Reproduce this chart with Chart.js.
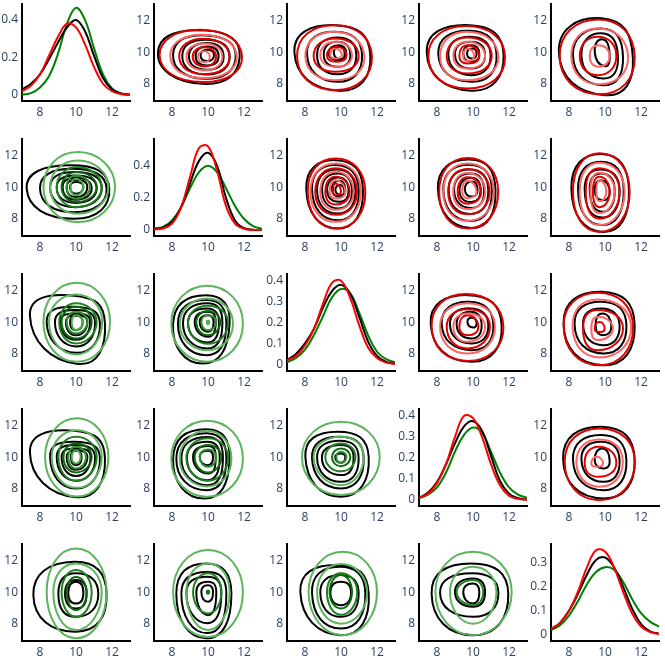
<!DOCTYPE html>
<html>
<head>
<meta charset="utf-8">
<script src="https://cdn.jsdelivr.net/npm/chart.js@4"></script>
<style>
  html, body { margin: 0; padding: 0; background: #fff; }
  #grid { position: relative; width: 665px; height: 661px; }
</style>
</head>
<body>
<div id="grid"></div>
<script>
// x grid of the density curves (diagonal panels)
const kdeX = [7, 7.5, 8, 8.5, 9, 9.5, 10, 10.5, 11, 11.5, 12, 12.5, 13];

const kde0Black = [0.03, 0.06, 0.11, 0.19, 0.28, 0.36, 0.40, 0.34, 0.21, 0.09, 0.03, 0.008, 0.002];
const kde0Red   = [0.02, 0.05, 0.11, 0.21, 0.31, 0.38, 0.36, 0.27, 0.15, 0.06, 0.02, 0.005, 0.001];
const kde0Green = [0.003, 0.01, 0.04, 0.10, 0.22, 0.38, 0.465, 0.40, 0.25, 0.11, 0.035, 0.008, 0.001];

const kde1Black = [0.005, 0.015, 0.05, 0.14, 0.29, 0.43, 0.48, 0.40, 0.20, 0.06, 0.012, 0.002, 0];
const kde1Red   = [0.003, 0.01, 0.04, 0.14, 0.33, 0.51, 0.52, 0.37, 0.15, 0.04, 0.008, 0.001, 0];
const kde1Green = [0.01, 0.02, 0.06, 0.14, 0.26, 0.36, 0.40, 0.36, 0.26, 0.15, 0.07, 0.025, 0.008];

const kde2Black = [0.02, 0.05, 0.10, 0.17, 0.27, 0.35, 0.38, 0.34, 0.23, 0.11, 0.04, 0.012, 0.003];
const kde2Red   = [0.02, 0.04, 0.09, 0.17, 0.29, 0.39, 0.40, 0.32, 0.19, 0.08, 0.03, 0.008, 0.002];
const kde2Green = [0.01, 0.03, 0.07, 0.14, 0.23, 0.32, 0.36, 0.34, 0.25, 0.14, 0.06, 0.025, 0.01];

const kde3Black = [0.01, 0.035, 0.085, 0.17, 0.27, 0.35, 0.375, 0.33, 0.21, 0.09, 0.03, 0.008, 0.002];
const kde3Red   = [0.01, 0.03, 0.08, 0.17, 0.30, 0.40, 0.39, 0.30, 0.17, 0.07, 0.02, 0.005, 0.001];
const kde3Green = [0.008, 0.025, 0.06, 0.13, 0.23, 0.31, 0.345, 0.32, 0.23, 0.13, 0.06, 0.025, 0.01];

const kde4Black = [0.025, 0.05, 0.10, 0.17, 0.25, 0.31, 0.32, 0.28, 0.20, 0.11, 0.045, 0.015, 0.005];
const kde4Red   = [0.025, 0.05, 0.10, 0.18, 0.28, 0.35, 0.345, 0.28, 0.18, 0.09, 0.035, 0.012, 0.004];
const kde4Green = [0.02, 0.04, 0.08, 0.14, 0.21, 0.26, 0.28, 0.27, 0.22, 0.15, 0.09, 0.055, 0.034];

// contour loops, one row per level: [xW, yW, xN, yN, xE, yE, xS, yS]
const c01Black = [
  [7.22, 10.0, 9.9, 11.37, 11.76, 9.7, 9.7, 7.99],
  [8.06, 9.85, 9.9, 11.06, 11.54, 9.7, 9.8, 8.31],
  [8.57, 9.75, 9.9, 10.78, 11.2, 9.7, 9.9, 8.58],
  [8.94, 9.75, 9.95, 10.57, 10.87, 9.7, 9.95, 8.88],
  [9.31, 9.75, 9.95, 10.36, 10.59, 9.75, 9.95, 9.15],
  [9.59, 9.8, 9.95, 10.15, 10.33, 9.8, 9.95, 9.43]
];
const c01Red = [
  [7.31, 9.8, 9.6, 11.42, 11.89, 9.7, 9.7, 8.10],
  [7.9, 9.75, 9.7, 11.1, 11.6, 9.7, 9.75, 8.35],
  [8.4, 9.7, 9.75, 10.85, 11.2, 9.7, 9.8, 8.6],
  [8.8, 9.7, 9.8, 10.55, 10.8, 9.7, 9.8, 8.85],
  [9.15, 9.7, 9.8, 10.3, 10.45, 9.7, 9.8, 9.1],
  [9.45, 9.7, 9.78, 10.05, 10.1, 9.7, 9.78, 9.35]
];
const c02Black = [
  [7.41, 10.0, 9.7, 11.71, 11.63, 9.8, 9.9, 7.55],
  [8.11, 9.9, 9.7, 11.29, 11.17, 9.8, 9.8, 8.12],
  [8.67, 9.8, 9.8, 10.93, 10.85, 9.8, 9.8, 8.6],
  [9.04, 9.85, 9.8, 10.66, 10.52, 9.8, 9.8, 9.07],
  [9.31, 9.9, 9.85, 10.44, 10.3, 9.9, 9.9, 9.49],
  [9.6, 9.95, 9.95, 10.35, 10.2, 9.95, 10.0, 9.55]
];
const c02Red = [
  [7.56, 9.7, 9.6, 11.71, 11.72, 9.7, 9.7, 7.59],
  [8.02, 9.7, 9.6, 11.29, 11.3, 9.7, 9.7, 8.22],
  [8.48, 9.75, 9.7, 10.87, 10.98, 9.75, 9.7, 8.75],
  [8.85, 9.8, 9.7, 10.66, 10.61, 9.8, 9.75, 9.07],
  [9.22, 9.8, 9.75, 10.34, 10.3, 9.8, 9.75, 9.39],
  [9.4, 9.8, 9.7, 10.23, 10.05, 9.8, 9.7, 9.6]
];
const c03Black = [
  [7.43, 10.0, 9.8, 11.71, 11.7, 9.8, 9.9, 7.55],
  [8.07, 9.9, 9.8, 11.35, 11.31, 9.8, 9.9, 8.12],
  [8.63, 9.85, 9.85, 10.97, 10.98, 9.8, 9.9, 8.54],
  [9.0, 9.85, 9.85, 10.66, 10.67, 9.85, 9.9, 8.96],
  [9.46, 9.9, 9.9, 10.44, 10.35, 9.9, 9.95, 9.39],
  [9.67, 9.9, 9.95, 10.23, 10.2, 9.9, 9.95, 9.6]
];
const c03Red = [
  [7.52, 9.7, 9.6, 11.65, 11.78, 9.7, 9.7, 7.69],
  [8.17, 9.7, 9.65, 11.29, 11.41, 9.7, 9.7, 8.22],
  [8.54, 9.75, 9.7, 10.93, 11.04, 9.75, 9.7, 8.65],
  [8.91, 9.75, 9.7, 10.66, 10.67, 9.75, 9.7, 8.96],
  [9.24, 9.75, 9.7, 10.44, 10.35, 9.75, 9.7, 9.28],
  [9.46, 9.75, 9.7, 10.23, 10.06, 9.75, 9.7, 9.43]
];
const c04Black = [
  [7.44, 10.0, 9.8, 12.14, 11.55, 9.6, 10.0, 7.27],
  [8.22, 9.8, 9.8, 11.5, 11.0, 9.7, 9.9, 7.9],
  [8.69, 9.8, 9.8, 11.19, 10.72, 9.7, 9.9, 8.33],
  [9.43, 10.0, 9.85, 10.81, 10.26, 9.9, 10.0, 9.11]
];
const c04Red = [
  [7.48, 9.7, 9.6, 12.07, 11.65, 9.7, 9.7, 7.33],
  [8.13, 9.7, 9.6, 11.5, 11.28, 9.7, 9.7, 7.96],
  [8.6, 9.75, 9.6, 10.97, 10.63, 9.75, 9.6, 8.54],
  [9.15, 9.75, 9.65, 10.44, 10.26, 9.75, 9.65, 9.07]
];
const c12Black = [
  [8.07, 9.9, 9.7, 11.71, 11.22, 9.8, 9.8, 7.38],
  [8.39, 9.85, 9.7, 11.4, 10.99, 9.8, 9.8, 7.9],
  [8.67, 9.8, 9.75, 11.12, 10.8, 9.8, 9.8, 8.33],
  [8.95, 9.8, 9.8, 10.87, 10.61, 9.8, 9.85, 8.65],
  [9.23, 9.8, 9.85, 10.61, 10.42, 9.8, 9.9, 9.07],
  [9.5, 9.85, 9.9, 10.4, 10.24, 9.85, 9.95, 9.39],
  [9.69, 9.8, 9.95, 10.13, 10.19, 9.75, 10.0, 9.49]
];
const c12Red = [
  [8.15, 9.7, 9.7, 11.82, 11.35, 9.7, 9.75, 7.38],
  [8.3, 9.7, 9.7, 11.5, 11.1, 9.7, 9.7, 7.8],
  [8.57, 9.7, 9.7, 11.19, 10.89, 9.7, 9.7, 8.25],
  [8.85, 9.7, 9.7, 10.97, 10.7, 9.7, 9.7, 8.56],
  [9.13, 9.7, 9.7, 10.65, 10.48, 9.7, 9.7, 8.9],
  [9.37, 9.7, 9.7, 10.44, 10.24, 9.7, 9.7, 9.28],
  [9.56, 9.7, 9.7, 10.23, 10.0, 9.7, 9.7, 9.49]
];
const c13Black = [
  [8.05, 9.9, 9.8, 11.75, 11.25, 9.8, 9.9, 7.4],
  [8.35, 9.85, 9.8, 11.42, 11.05, 9.8, 9.85, 7.85],
  [8.65, 9.8, 9.8, 11.12, 10.85, 9.8, 9.85, 8.3],
  [8.95, 9.8, 9.85, 10.87, 10.62, 9.8, 9.9, 8.68],
  [9.25, 9.8, 9.9, 10.6, 10.42, 9.8, 9.9, 9.05],
  [9.55, 9.85, 9.92, 10.36, 10.25, 9.85, 9.95, 9.4]
];
const c13Red = [
  [8.12, 9.7, 9.7, 11.85, 11.4, 9.7, 9.7, 7.38],
  [8.35, 9.7, 9.7, 11.5, 11.15, 9.7, 9.7, 7.85],
  [8.62, 9.7, 9.7, 11.15, 10.92, 9.7, 9.7, 8.28],
  [8.9, 9.7, 9.7, 10.9, 10.68, 9.7, 9.7, 8.6],
  [9.15, 9.7, 9.7, 10.62, 10.45, 9.7, 9.7, 8.95],
  [9.4, 9.7, 9.7, 10.4, 10.2, 9.7, 9.7, 9.3]
];
const c14Black = [
  [8.13, 9.9, 9.8, 12.1, 11.33, 9.8, 9.9, 7.16],
  [8.5, 9.85, 9.8, 11.61, 11.04, 9.8, 9.85, 7.59],
  [8.87, 9.85, 9.8, 11.12, 10.81, 9.8, 9.85, 8.07],
  [9.15, 9.85, 9.8, 10.87, 10.54, 9.8, 9.85, 8.44],
  [9.43, 9.8, 9.8, 10.44, 10.26, 9.7, 9.85, 9.17]
];
const c14Red = [
  [8.22, 9.7, 9.7, 12.14, 11.37, 9.7, 9.7, 7.16],
  [8.59, 9.7, 9.7, 11.55, 11.09, 9.7, 9.7, 7.59],
  [8.93, 9.7, 9.7, 11.19, 10.81, 9.7, 9.7, 8.0],
  [9.19, 9.7, 9.7, 10.91, 10.54, 9.7, 9.7, 8.35],
  [9.33, 9.7, 9.7, 10.65, 10.26, 9.7, 9.7, 8.73],
  [9.52, 9.7, 9.7, 10.44, 10.07, 9.7, 9.7, 9.1]
];
const c23Black = [
  [7.65, 9.9, 9.7, 11.71, 11.59, 9.8, 9.9, 7.48],
  [8.26, 9.9, 9.8, 11.29, 11.13, 9.8, 9.9, 8.22],
  [8.72, 9.85, 9.85, 10.87, 10.85, 9.8, 9.9, 8.65],
  [9.09, 9.85, 9.85, 10.66, 10.48, 9.85, 9.9, 8.96],
  [9.69, 10.0, 9.95, 10.28, 10.2, 9.95, 10.0, 9.66]
];
const c23Red = [
  [7.7, 9.7, 9.6, 11.78, 11.69, 9.7, 9.7, 7.54],
  [8.17, 9.7, 9.7, 11.19, 11.22, 9.7, 9.7, 8.01],
  [8.54, 9.7, 9.7, 10.81, 10.94, 9.7, 9.7, 8.33],
  [8.91, 9.7, 9.7, 10.55, 10.67, 9.7, 9.7, 8.75],
  [9.24, 9.7, 9.7, 10.44, 10.3, 9.7, 9.7, 9.17]
];
const c24Black = [
  [7.7, 9.9, 9.8, 11.93, 11.65, 9.8, 9.9, 7.27],
  [8.31, 9.85, 9.8, 11.29, 11.19, 9.8, 9.9, 8.01],
  [8.78, 9.85, 9.8, 10.87, 10.81, 9.8, 9.9, 8.54],
  [9.48, 9.75, 9.85, 10.55, 10.35, 9.75, 9.9, 9.17]
];
const c24Red = [
  [7.7, 9.7, 9.6, 11.86, 11.56, 9.7, 9.7, 7.27],
  [8.2, 9.7, 9.6, 11.44, 11.45, 9.7, 9.7, 7.76],
  [8.78, 9.6, 9.6, 10.76, 11.0, 9.6, 9.6, 8.22],
  [9.24, 9.6, 9.6, 10.34, 10.44, 9.6, 9.6, 8.86],
  [9.43, 9.6, 9.7, 10.0, 9.98, 9.6, 9.7, 9.37]
];
const c34Black = [
  [7.67, 9.9, 9.8, 11.93, 11.65, 9.8, 9.9, 7.38],
  [8.22, 9.85, 9.8, 11.4, 11.19, 9.8, 9.9, 7.9],
  [8.69, 9.85, 9.8, 10.97, 10.81, 9.8, 9.9, 8.43],
  [9.43, 9.8, 9.85, 10.55, 10.26, 9.75, 9.9, 9.28]
];
const c34Red = [
  [7.76, 9.7, 9.7, 11.82, 11.65, 9.7, 9.7, 7.27],
  [8.41, 9.7, 9.7, 11.12, 10.99, 9.7, 9.7, 8.12],
  [8.87, 9.65, 9.65, 10.66, 10.63, 9.65, 9.65, 8.75],
  [9.24, 9.6, 9.55, 10.02, 9.89, 9.6, 9.55, 9.39]
];
const c10Black = [
  [7.26, 9.9, 9.7, 11.38, 11.85, 9.9, 9.9, 7.99],
  [8.0, 9.9, 9.8, 11.16, 11.7, 9.9, 9.9, 8.41],
  [8.56, 9.95, 9.9, 10.95, 11.43, 9.95, 9.95, 8.73],
  [8.93, 9.95, 9.95, 10.74, 11.15, 9.95, 10.0, 9.0],
  [9.26, 9.95, 9.95, 10.6, 10.87, 9.95, 10.0, 9.2],
  [9.48, 10.0, 10.0, 10.46, 10.63, 10.0, 10.0, 9.37],
  [9.67, 10.0, 10.0, 10.32, 10.41, 10.0, 10.0, 9.58]
];
const c10Green = [
  [8.19, 10.0, 10.1, 12.22, 12.17, 10.0, 10.1, 7.78],
  [8.56, 10.0, 10.1, 11.69, 11.8, 10.0, 10.1, 8.31],
  [8.93, 10.0, 10.05, 11.27, 11.43, 10.0, 10.05, 8.73],
  [9.2, 10.0, 10.05, 10.95, 11.15, 10.0, 10.05, 9.05],
  [9.48, 10.0, 10.0, 10.74, 10.78, 10.0, 10.0, 9.26],
  [9.7, 10.0, 10.0, 10.53, 10.41, 10.0, 10.0, 9.48]
];
const c20Black = [
  [7.44, 10.4, 9.9, 11.67, 11.61, 9.9, 10.1, 7.35],
  [8.37, 10.0, 9.9, 10.97, 11.33, 9.9, 10.0, 8.05],
  [8.83, 10.0, 10.0, 10.76, 11.06, 9.95, 10.0, 8.46],
  [9.11, 10.0, 10.0, 10.55, 10.78, 10.0, 10.0, 8.88],
  [9.44, 10.0, 10.0, 10.44, 10.63, 10.0, 10.0, 9.17],
  [9.67, 10.0, 10.0, 10.4, 10.37, 10.0, 10.0, 9.49]
];
const c20Green = [
  [8.19, 10.0, 10.04, 12.5, 11.89, 10.0, 10.04, 7.48],
  [8.5, 10.0, 10.0, 11.75, 11.45, 10.0, 10.0, 7.95],
  [9.07, 10.0, 10.0, 11.19, 11.15, 10.0, 10.0, 8.65],
  [9.2, 10.0, 10.0, 10.97, 10.87, 10.0, 10.0, 8.96],
  [9.48, 10.0, 10.0, 10.66, 10.63, 10.0, 10.0, 9.28],
  [9.76, 10.0, 10.0, 10.44, 10.39, 10.0, 10.0, 9.49]
];
const c21Black = [
  [8.06, 9.9, 9.9, 11.71, 11.2, 9.9, 9.7, 7.37],
  [8.33, 9.9, 9.9, 11.4, 11.02, 9.9, 9.9, 7.9],
  [8.61, 9.95, 9.95, 11.19, 10.8, 9.95, 9.95, 8.33],
  [8.89, 9.95, 9.95, 10.87, 10.61, 9.95, 9.95, 8.71],
  [9.26, 10.0, 10.0, 10.66, 10.43, 10.0, 10.0, 9.07],
  [9.54, 10.0, 10.0, 10.44, 10.31, 10.0, 10.0, 9.39]
];
const c21Green = [
  [7.96, 9.9, 9.95, 12.31, 11.94, 9.9, 9.95, 7.48],
  [8.43, 9.9, 9.95, 11.5, 11.39, 9.9, 9.95, 8.22],
  [8.89, 9.95, 10.0, 11.04, 11.11, 9.95, 10.0, 8.62],
  [9.35, 10.0, 10.0, 10.7, 10.68, 10.0, 10.0, 9.17],
  [9.63, 10.0, 10.0, 10.44, 10.46, 10.0, 10.0, 9.49],
  [9.93, 10.0, 10.0, 10.1, 10.07, 10.0, 10.0, 9.88]
];
const c30Black = [
  [7.44, 10.3, 9.9, 11.67, 11.61, 9.9, 10.0, 7.46],
  [8.56, 10.0, 9.9, 10.97, 11.33, 9.95, 10.0, 8.01],
  [8.93, 10.0, 10.0, 10.76, 11.06, 9.95, 10.0, 8.5],
  [9.2, 10.0, 10.0, 10.55, 10.81, 10.0, 10.0, 8.8],
  [9.48, 10.0, 10.0, 10.44, 10.63, 10.0, 10.0, 9.2],
  [9.72, 10.0, 10.0, 10.4, 10.31, 10.0, 10.0, 9.49]
];
const c30Green = [
  [8.28, 10.0, 10.05, 12.46, 11.8, 10.0, 10.05, 7.5],
  [8.65, 10.0, 10.05, 11.71, 11.43, 10.0, 10.05, 8.05],
  [9.02, 10.0, 10.0, 11.29, 11.15, 10.0, 10.0, 8.5],
  [9.3, 10.0, 10.0, 10.87, 10.87, 10.0, 10.0, 9.03],
  [9.57, 10.0, 10.0, 10.66, 10.56, 10.0, 10.0, 9.28],
  [9.76, 10.0, 10.0, 10.44, 10.26, 10.0, 10.0, 9.6]
];
const c31Black = [
  [8.06, 9.9, 9.9, 11.76, 11.2, 9.9, 9.8, 7.37],
  [8.24, 9.9, 9.9, 11.52, 11.02, 9.9, 9.9, 7.9],
  [8.52, 9.95, 9.95, 11.27, 10.83, 9.95, 9.95, 8.22],
  [8.83, 9.95, 9.95, 10.97, 10.65, 9.95, 9.95, 8.54],
  [9.17, 10.0, 10.0, 10.7, 10.43, 10.0, 10.0, 8.96],
  [9.54, 10.0, 10.0, 10.4, 10.28, 10.0, 10.0, 9.49]
];
const c31Green = [
  [7.96, 9.9, 9.95, 12.31, 11.94, 9.9, 9.95, 7.48],
  [8.43, 9.9, 9.95, 11.67, 11.3, 9.9, 9.95, 8.14],
  [8.8, 9.95, 10.0, 11.19, 11.11, 9.95, 10.0, 8.5],
  [9.26, 10.0, 10.0, 10.76, 10.74, 10.0, 10.0, 9.03],
  [9.54, 10.0, 10.0, 10.49, 10.46, 10.0, 10.0, 9.39]
];
const c32Black = [
  [8.02, 10.0, 9.8, 11.61, 11.54, 10.0, 10.0, 7.48],
  [8.39, 9.95, 9.9, 11.29, 11.26, 9.95, 10.0, 8.01],
  [8.67, 9.95, 9.95, 11.04, 10.98, 9.95, 10.0, 8.43],
  [8.94, 9.95, 10.0, 10.76, 10.7, 9.95, 10.0, 8.86],
  [9.68, 10.0, 10.0, 10.23, 10.24, 10.0, 10.0, 9.64]
];
const c32Green = [
  [7.83, 10.0, 10.0, 12.24, 12.15, 10.0, 10.0, 7.59],
  [8.48, 10.0, 10.0, 11.29, 11.26, 10.0, 10.0, 8.22],
  [9.13, 10.0, 10.0, 10.87, 10.8, 10.0, 10.0, 9.1],
  [9.5, 10.0, 10.0, 10.55, 10.52, 10.0, 10.0, 9.42],
  [9.74, 10.0, 10.0, 10.34, 10.3, 10.0, 10.0, 9.64]
];
const c40Black = [
  [7.63, 9.8, 9.9, 11.93, 11.7, 9.9, 10.0, 7.49],
  [9.02, 9.9, 10.0, 11.19, 11.24, 9.9, 10.0, 8.43],
  [9.39, 9.9, 10.0, 10.76, 10.59, 9.9, 10.0, 8.96],
  [9.57, 9.95, 10.0, 10.66, 10.41, 9.95, 10.0, 9.28]
];
const c40Green = [
  [8.37, 10.0, 10.0, 12.77, 11.7, 10.0, 10.0, 7.07],
  [8.74, 10.0, 10.0, 11.82, 11.43, 10.0, 10.0, 7.59],
  [9.2, 10.0, 10.0, 11.4, 10.87, 10.0, 10.0, 8.43],
  [9.48, 10.0, 10.0, 10.95, 10.59, 10.0, 10.0, 8.86]
];
const c41Black = [
  [8.24, 9.9, 9.9, 11.82, 11.3, 9.9, 9.9, 7.07],
  [8.52, 9.9, 9.95, 11.27, 11.02, 9.9, 9.95, 7.4],
  [8.8, 9.95, 9.95, 10.97, 10.74, 9.95, 9.95, 8.03],
  [9.35, 10.0, 10.0, 10.66, 10.46, 10.0, 10.0, 8.54],
  [9.63, 10.0, 10.0, 10.44, 10.28, 10.0, 10.0, 9.39]
];
const c41Green = [
  [8.06, 10.0, 10.0, 12.67, 11.94, 10.0, 10.0, 7.16],
  [8.8, 10.0, 10.0, 11.82, 11.2, 10.0, 10.0, 7.59],
  [9.17, 10.0, 10.0, 11.19, 10.74, 10.0, 10.0, 8.65],
  [9.93, 10.0, 10.0, 10.1, 10.07, 10.0, 10.0, 9.9]
];
const c42Black = [
  [7.74, 10.0, 9.8, 11.71, 11.54, 9.9, 10.0, 7.27],
  [8.39, 9.95, 9.9, 11.6, 11.35, 9.95, 10.0, 7.69],
  [8.85, 9.95, 9.95, 11.08, 10.98, 9.95, 10.0, 8.43],
  [9.41, 10.0, 10.0, 10.66, 10.56, 10.0, 10.0, 9.17]
];
const c42Green = [
  [8.2, 10.0, 10.1, 12.56, 12.0, 10.0, 10.1, 7.27],
  [8.67, 10.0, 10.0, 11.78, 11.45, 10.0, 10.0, 8.0],
  [9.22, 10.0, 10.0, 11.19, 10.9, 10.0, 10.0, 8.56],
  [9.37, 10.0, 10.0, 11.08, 10.61, 10.0, 10.0, 8.96]
];
const c43Black = [
  [7.7, 9.9, 9.9, 11.82, 11.96, 9.9, 10.0, 7.27],
  [8.17, 9.95, 9.95, 11.19, 11.41, 9.95, 10.0, 8.43],
  [9.0, 10.0, 10.0, 10.87, 10.67, 10.0, 10.0, 9.07],
  [9.46, 10.0, 10.0, 10.55, 10.35, 10.0, 10.0, 9.28]
];
const c43Green = [
  [7.91, 10.0, 10.0, 12.56, 12.15, 10.0, 10.0, 7.27],
  [8.72, 10.0, 10.0, 11.61, 11.3, 10.0, 10.0, 8.0],
  [9.09, 10.0, 10.0, 10.76, 10.57, 10.0, 10.0, 9.17]
];

const xTicks = [8, 10, 12];
const contourTicks = [8, 10, 12];
const diagTicks0 = [0, 0.2, 0.4];
const diagTicks1 = [0, 0.2, 0.4];
const diagTicks2 = [0, 0.1, 0.2, 0.3, 0.4];
const diagTicks3 = [0, 0.1, 0.2, 0.3, 0.4];
const diagTicks4 = [0, 0.1, 0.2, 0.3];

// layout of the 5x5 grid (pixels)
const colLeft = [22, 154, 287, 419, 551];
const rowTop = [4, 139, 274, 409, 544];
const plotW = 108, plotH = 97, axW = 22, axH = 25, pad = 4;

const redShades = ['#e00000', '#ff6464'];
const greenShades = ['#5cb45c', '#5cb45c', '#1f801f', '#0b6b0b', '#2c8f2c', '#49a849'];

Chart.defaults.font.family = "'Open Sans', sans-serif";
Chart.defaults.font.size = 12;

const grid = document.getElementById('grid');

// closed loop through the four extreme points, padded so each drawn
// piece has both neighbours; the two padding pieces are hidden
function loopData(q) {
  const W = {x: q[0], y: q[1]}, N = {x: q[2], y: q[3]}, E = {x: q[4], y: q[5]}, S = {x: q[6], y: q[7]};
  return [S, W, N, E, S, W, N];
}
const hideEnds = ctx => (ctx.p0DataIndex === 0 || ctx.p1DataIndex === 6) ? 'rgba(0,0,0,0)' : undefined;

function loopSets(loops, colorAt, tension) {
  return loops.map((q, i) => ({
    data: loopData(q),
    showLine: true,
    borderColor: colorAt(i),
    borderWidth: 2,
    pointRadius: 0,
    tension: tension,
    segment: { borderColor: hideEnds }
  }));
}

function curveSet(ys, color) {
  return {
    data: kdeX.map((x, i) => ({x: x, y: ys[i]})),
    showLine: true,
    borderColor: color,
    borderWidth: 2,
    pointRadius: 0,
    tension: 0.4
  };
}

function makePanel(r, c, datasets, yMin, yMax, yTicks) {
  const cv = document.createElement('canvas');
  cv.width = axW + plotW + pad;
  cv.height = pad + plotH + axH;
  cv.style.position = 'absolute';
  cv.style.left = (colLeft[c] - axW) + 'px';
  cv.style.top = (rowTop[r] - pad) + 'px';
  grid.appendChild(cv);

  const tickFont = { family: "'Open Sans', sans-serif", size: 12 };
  new Chart(cv.getContext('2d'), {
    type: 'scatter',
    data: { datasets: datasets },
    options: {
      responsive: false,
      animation: false,
      events: [],
      layout: { padding: { top: pad, right: pad, left: 0, bottom: 0 } },
      plugins: { legend: { display: false }, tooltip: { enabled: false } },
      scales: {
        x: {
          type: 'linear', min: 7, max: 13,
          grid: { display: false, drawTicks: false },
          border: { display: true, color: '#000', width: 2 },
          ticks: { color: '#2a3f5f', font: tickFont, padding: 4, callback: v => String(v) },
          afterBuildTicks: s => { s.ticks = xTicks.map(v => ({value: v})); },
          afterFit: s => { s.height = axH; s.paddingLeft = 0; s.paddingRight = 0; }
        },
        y: {
          type: 'linear', min: yMin, max: yMax,
          grid: { display: false, drawTicks: false },
          border: { display: true, color: '#000', width: 2 },
          ticks: { color: '#2a3f5f', font: tickFont, padding: 4, callback: v => String(v) },
          afterBuildTicks: s => { s.ticks = yTicks.map(v => ({value: v})); },
          afterFit: s => { s.width = axW; s.paddingTop = 0; s.paddingBottom = 0; }
        }
      }
    }
  });
}

const black = () => '#000';
const red = i => redShades[i % 2];
const green = i => greenShades[Math.min(i, greenShades.length - 1)];

function upper(r, c, blackLoops, redLoops) {
  makePanel(r, c, [...loopSets(redLoops, red, 0.6), ...loopSets(blackLoops, black, 0.64)], 6.9, 13.05, contourTicks);
}
function lower(r, c, blackLoops, greenLoops) {
  makePanel(r, c, [...loopSets(greenLoops, green, 0.56), ...loopSets(blackLoops, black, 0.64)], 6.9, 13.05, contourTicks);
}
function diag(i, b, rd, g, yMin, yMax, ticks) {
  makePanel(i, i, [curveSet(rd, '#ff0000'), curveSet(b, '#000000'), curveSet(g, '#008000')], yMin, yMax, ticks);
}

diag(0, kde0Black, kde0Red, kde0Green, -0.032, 0.485, diagTicks0);
diag(1, kde1Black, kde1Red, kde1Green, -0.037, 0.566, diagTicks1);
diag(2, kde2Black, kde2Red, kde2Green, -0.032, 0.432, diagTicks2);
diag(3, kde3Black, kde3Red, kde3Green, -0.029, 0.433, diagTicks3);
diag(4, kde4Black, kde4Red, kde4Green, -0.025, 0.376, diagTicks4);

upper(0, 1, c01Black, c01Red);
upper(0, 2, c02Black, c02Red);
upper(0, 3, c03Black, c03Red);
upper(0, 4, c04Black, c04Red);
upper(1, 2, c12Black, c12Red);
upper(1, 3, c13Black, c13Red);
upper(1, 4, c14Black, c14Red);
upper(2, 3, c23Black, c23Red);
upper(2, 4, c24Black, c24Red);
upper(3, 4, c34Black, c34Red);

lower(1, 0, c10Black, c10Green);
lower(2, 0, c20Black, c20Green);
lower(2, 1, c21Black, c21Green);
lower(3, 0, c30Black, c30Green);
lower(3, 1, c31Black, c31Green);
lower(3, 2, c32Black, c32Green);
lower(4, 0, c40Black, c40Green);
lower(4, 1, c41Black, c41Green);
lower(4, 2, c42Black, c42Green);
lower(4, 3, c43Black, c43Green);
</script>
</body>
</html>
